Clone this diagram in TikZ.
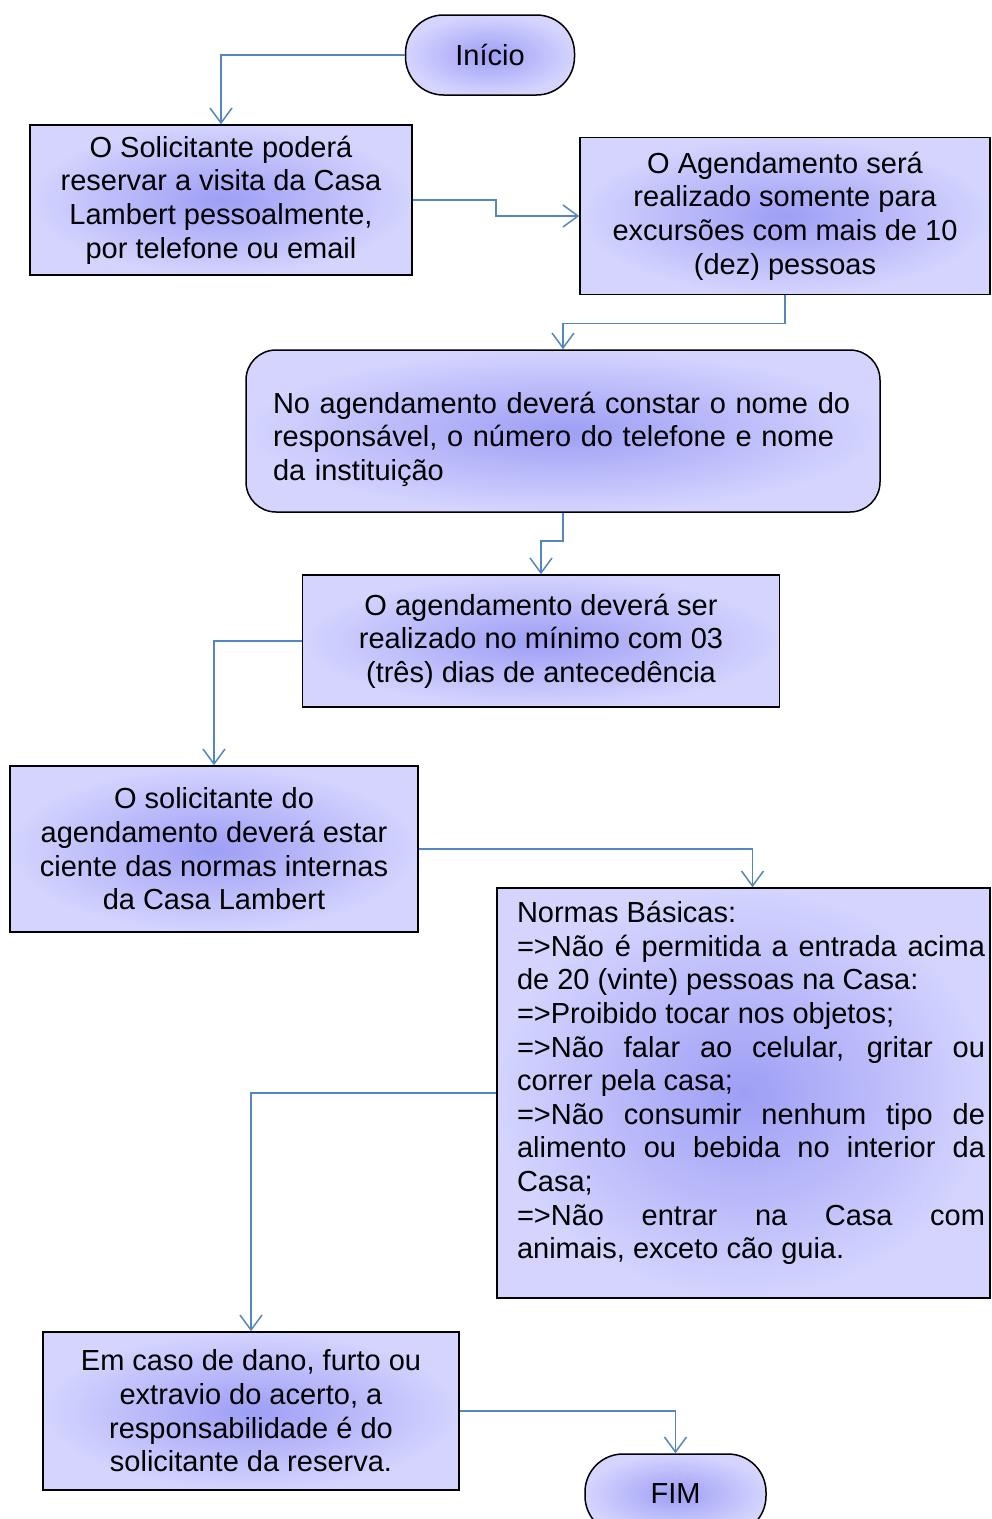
\documentclass[tikz,border=0pt]{standalone}
\usepackage{fontspec}
\setmainfont{Liberation Sans}
\usepackage{tikz}
\usetikzlibrary{arrows.meta}

\definecolor{boxin}{RGB}{158,158,245}
\definecolor{boxout}{RGB}{212,212,255}
\definecolor{linkblue}{RGB}{84,134,192}

\begin{document}
\begin{tikzpicture}[x=1pt,y=-1pt,
		box/.style={draw=black,line width=1.5pt,shading=radial,inner color=boxin,outer color=boxout,
			inner sep=0pt,align=center,font=\fontsize{29}{33.6}\selectfont},
		terminal/.style={box,rounded corners=38pt,minimum width=169pt,minimum height=80pt},
		link/.style={draw=linkblue,line width=1.5pt,-{Straight Barb[length=15pt,width=22pt]}}]

		\useasboundingbox (0,0) rectangle (992,1519);

		\node[terminal] (Inicio) at (490,55) {Início};

		\node[box,minimum width=382pt,minimum height=150pt] (Solicitante) at (221,200)
			{O Solicitante poderá\\reservar a visita da Casa\\Lambert pessoalmente,\\por telefone ou email};
		\node[box,minimum width=410pt,minimum height=157pt] (Agendamento) at (785,216)
			{O Agendamento será\\realizado somente para\\excursões com mais de 10\\(dez) pessoas};

		\node[box,rounded corners=30pt,minimum width=634pt,minimum height=162pt,text width=580pt,align=left] (Dados) at (563,431)
			{\rule{0pt}{38pt}No agendamento deverá constar o nome do\\responsável, o número do telefone e nome\\da instituição};

		\node[box,minimum width=477pt,minimum height=132pt] (Prazo) at (541,641)
			{O agendamento deverá ser\\realizado no mínimo com 03\\(três) dias de antecedência};

		\node[box,minimum width=408pt,minimum height=166pt] (Normas) at (214,849)
			{O solicitante do\\agendamento deverá estar\\ciente das normas internas\\da Casa Lambert};

		\node[box,minimum width=493pt,minimum height=410pt,text width=483pt,align=justify] (Regras) at (743.5,1093)
			{\leftskip=15pt Normas Básicas:\\
			=>Não é permitida a entrada acima\linebreak de 20 (vinte) pessoas na Casa:\\
			=>Proibido tocar nos objetos;\\
			=>Não falar ao celular, gritar ou\linebreak correr pela casa;\\
			=>Não consumir nenhum tipo de\linebreak alimento ou bebida no interior da\linebreak Casa;\\
			=>Não entrar na Casa com\linebreak animais, exceto cão guia.\par\nointerlineskip\rule{0pt}{20pt}};

		\node[box,minimum width=416pt,minimum height=158pt] (Dano) at (251,1411)
			{Em caso de dano, furto ou\\extravio do acerto, a\\responsabilidade é do\\solicitante da reserva.};

		\node[terminal,minimum width=181pt] (Fim) at (675.5,1494) {FIM};

		\draw[link] (Inicio.west) -| (Solicitante.north);
		\draw[link] (Solicitante.east) -- ++(83,0) |- (Agendamento.west);
		\draw[link] (Agendamento.south) -- ++(0,28) -| (Dados.north);
		\draw[link] (Dados.south) -- ++(0,28) -| (Prazo.north);
		\draw[link] (Prazo.west) -| (Normas.north);
		\draw[link] (Normas.east) -| ([xshift=9pt]Regras.north);
		\draw[link] (Regras.west) -| (Dano.north);
		\draw[link] (Dano.east) -| (Fim.north);
\end{tikzpicture}
\end{document}
